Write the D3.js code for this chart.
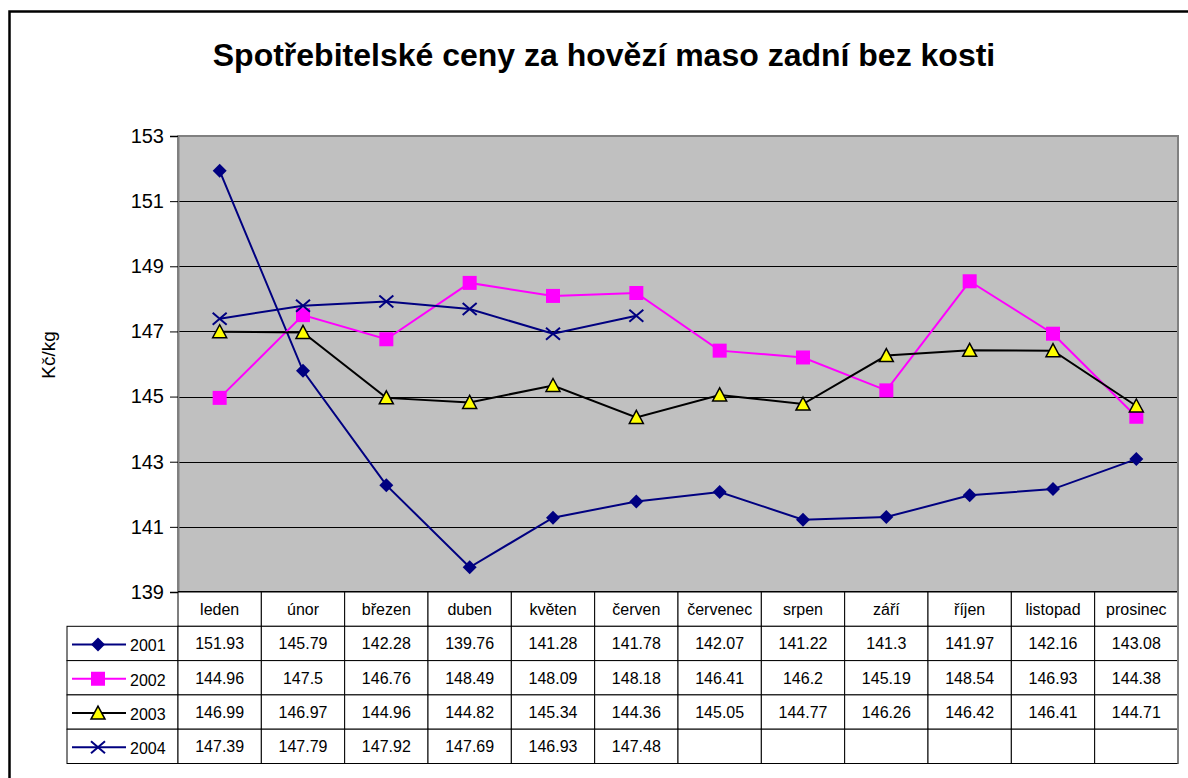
<!DOCTYPE html>
<html>
<head>
<meta charset="utf-8">
<script src="https://cdn.jsdelivr.net/npm/d3@7"></script>
<style>
  body { margin: 0; background: #fff; }
  text { font-family: Arial, "Liberation Sans", sans-serif; }
</style>
</head>
<body>
<div id="vis"></div>
<script>
const months = ['leden', 'únor', 'březen', 'duben', 'květen', 'červen', 'červenec', 'srpen', 'září', 'říjen', 'listopad', 'prosinec']
const years = ['2001', '2002', '2003', '2004']
const v2001 = [151.93, 145.79, 142.28, 139.76, 141.28, 141.78, 142.07, 141.22, 141.3, 141.97, 142.16, 143.08]
const v2002 = [144.96, 147.5, 146.76, 148.49, 148.09, 148.18, 146.41, 146.2, 145.19, 148.54, 146.93, 144.38]
const v2003 = [146.99, 146.97, 144.96, 144.82, 145.34, 144.36, 145.05, 144.77, 146.26, 146.42, 146.41, 144.71]
const v2004 = [147.39, 147.79, 147.92, 147.69, 146.93, 147.48]
const yTicks = [139, 141, 143, 145, 147, 149, 151, 153]

const series = [
  {name: years[0], values: v2001, color: '#000080', marker: 'diamond'},
  {name: years[1], values: v2002, color: '#ff00ff', marker: 'square'},
  {name: years[2], values: v2003, color: '#000000', marker: 'triangle'},
  {name: years[3], values: v2004, color: '#000080', marker: 'cross'}
]

const W = 1188, H = 778
const plot = {left: 178, right: 1178, top: 136, bottom: 592}
const rowH = 34.3

const svg = d3.select('#vis').append('svg')
  .attr('width', W).attr('height', H)

// outer frame (chart is cropped on right and bottom)
svg.append('rect')
  .attr('x', 9.5).attr('y', 11.5)
  .attr('width', W + 10).attr('height', H + 10)
  .attr('fill', '#fff').attr('stroke', '#000').attr('stroke-width', 2.5)

svg.append('text')
  .attr('x', 604).attr('y', 66)
  .attr('text-anchor', 'middle')
  .style('font-size', '32px').style('font-weight', 'bold')
  .text('Spotřebitelské ceny za hovězí maso zadní bez kosti')

const xScale = d3.scaleBand()
  .domain(months)
  .range([plot.left, plot.right])

const yScale = d3.scaleLinear()
  .domain([139, 153])
  .range([plot.bottom, plot.top])

// plot area
svg.append('rect')
  .attr('x', plot.left).attr('y', plot.top)
  .attr('width', plot.right - plot.left).attr('height', plot.bottom - plot.top)
  .attr('fill', '#c0c0c0').attr('stroke', '#808080').attr('stroke-width', 2)

// gridlines
svg.selectAll('.grid')
  .data(yTicks.filter(d => d != 139 && d != 153))
  .enter().append('line')
  .attr('class', 'grid')
  .attr('x1', plot.left).attr('x2', plot.right)
  .attr('y1', d => Math.round(yScale(d)) + 0.5).attr('y2', d => Math.round(yScale(d)) + 0.5)
  .attr('stroke', '#000').attr('stroke-width', 1)

// y axis
const yAxis = d3.axisLeft(yScale).tickValues(yTicks).tickSize(8).tickPadding(6)
const ya = svg.append('g')
  .attr('transform', `translate(${plot.left},0)`)
  .call(yAxis)
ya.select('.domain').attr('stroke', '#808080').attr('stroke-width', 2)
ya.selectAll('.tick text').style('font-size', '20px').attr('fill', '#000')
  .attr('font-family', 'Arial, "Liberation Sans", sans-serif')
ya.selectAll('.tick line').attr('stroke', '#000')

svg.append('text')
  .attr('transform', 'rotate(-90)')
  .attr('x', -355).attr('y', 55)
  .attr('text-anchor', 'middle')
  .style('font-size', '19px')
  .text('Kč/kg')

// bottom axis line
svg.append('line')
  .attr('x1', plot.left).attr('x2', plot.right)
  .attr('y1', plot.bottom).attr('y2', plot.bottom)
  .attr('stroke', '#000').attr('stroke-width', 2)

function drawMarker(g, type, color) {
  if (type == 'diamond') {
    g.append('path').attr('d', 'M0,-7L7,0L0,7L-7,0Z').attr('fill', color)
  } else if (type == 'square') {
    g.append('rect').attr('x', -7).attr('y', -7).attr('width', 14).attr('height', 14).attr('fill', color)
  } else if (type == 'triangle') {
    g.append('path').attr('d', 'M0,-7L7,6L-7,6Z').attr('fill', '#ffff00')
      .attr('stroke', '#000').attr('stroke-width', 1.5)
  } else {
    g.append('path').attr('d', 'M-7,-6L7,6M-7,6L7,-6').attr('stroke', color).attr('stroke-width', 2).attr('fill', 'none')
  }
}

const line = d3.line()
  .x((d, i) => xScale(months[i]) + xScale.bandwidth() / 2)
  .y(d => yScale(d))

series.forEach(s => {
  svg.append('path')
    .datum(s.values)
    .attr('d', line)
    .attr('fill', 'none')
    .attr('stroke', s.color)
    .attr('stroke-width', 2)
  s.values.forEach((v, i) => {
    const g = svg.append('g')
      .attr('transform', `translate(${xScale(months[i]) + xScale.bandwidth() / 2},${yScale(v)})`)
    drawMarker(g, s.marker, s.color)
  })
})

// data table
const table = svg.append('g')
const tableLeft = 67
const tableTop = plot.bottom

// header row
months.forEach(m => {
  table.append('rect')
    .attr('x', xScale(m)).attr('y', tableTop)
    .attr('width', xScale.bandwidth()).attr('height', rowH)
    .attr('fill', '#fff').attr('stroke', '#000').attr('stroke-width', 1)
  table.append('text')
    .attr('x', xScale(m) + xScale.bandwidth() / 2).attr('y', tableTop + rowH / 2 + 6)
    .attr('text-anchor', 'middle')
    .style('font-size', '16px')
    .text(m)
})

series.forEach((s, r) => {
  const y0 = tableTop + rowH * (r + 1)
  table.append('rect')
    .attr('x', tableLeft).attr('y', y0)
    .attr('width', plot.left - tableLeft).attr('height', rowH)
    .attr('fill', '#fff').attr('stroke', '#000').attr('stroke-width', 1)
  table.append('line')
    .attr('x1', 72).attr('x2', 126)
    .attr('y1', y0 + rowH / 2 + 1).attr('y2', y0 + rowH / 2 + 1)
    .attr('stroke', s.color).attr('stroke-width', 2)
  drawMarker(table.append('g').attr('transform', `translate(98,${y0 + rowH / 2 + 1})`), s.marker, s.color)
  table.append('text')
    .attr('x', 130).attr('y', y0 + rowH / 2 + 8)
    .style('font-size', '16px')
    .text(s.name)
  months.forEach((m, i) => {
    table.append('rect')
      .attr('x', xScale(m)).attr('y', y0)
      .attr('width', xScale.bandwidth()).attr('height', rowH)
      .attr('fill', '#fff').attr('stroke', '#000').attr('stroke-width', 1)
    if (s.values[i] != null) {
      table.append('text')
        .attr('x', xScale(m) + xScale.bandwidth() / 2).attr('y', y0 + rowH / 2 + 6)
        .attr('text-anchor', 'middle')
        .style('font-size', '16px')
        .text(s.values[i])
    }
  })
})

// gray right edge of plot and table
svg.append('line')
  .attr('x1', plot.right).attr('x2', plot.right)
  .attr('y1', plot.top).attr('y2', tableTop + rowH * 5)
  .attr('stroke', '#808080').attr('stroke-width', 2)
</script>
</body>
</html>
